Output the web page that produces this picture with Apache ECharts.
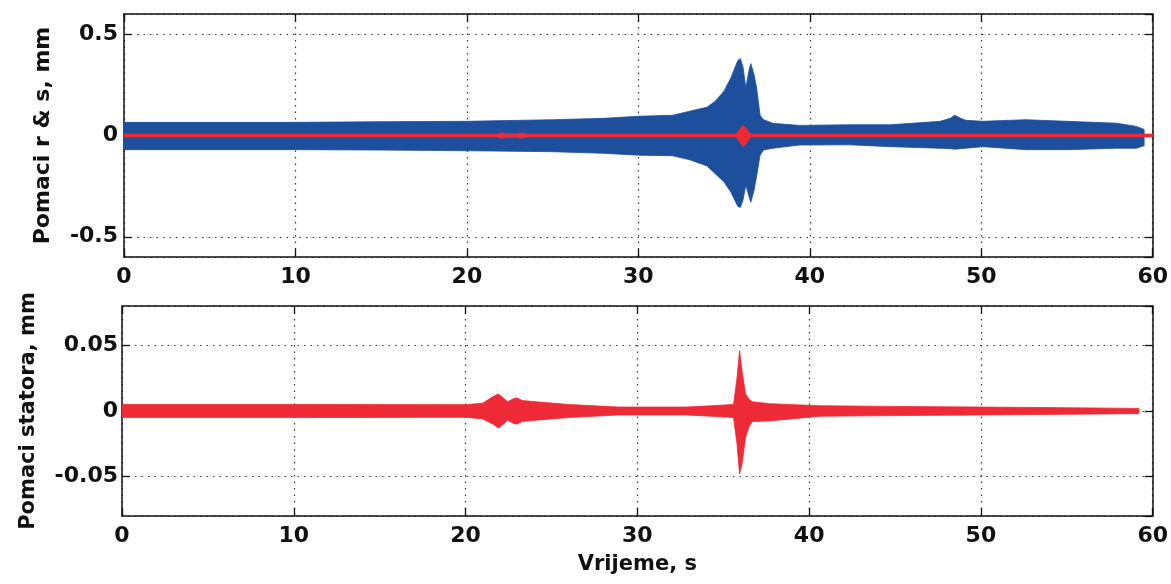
<!DOCTYPE html>
<html>
<head>
<meta charset="utf-8">
<script src="https://cdn.jsdelivr.net/npm/echarts@6/dist/echarts.min.js"></script>
<style>html,body{margin:0;padding:0;background:#fff}#c{width:1171px;height:584px}</style>
</head>
<body>
<div id="c"></div>
<script>
// ---- tick labels ----
const xTickLabels = [0, 10, 20, 30, 40, 50, 60];
const yTopTickLabels = [-0.5, 0, 0.5];
const yBottomTickLabels = [-0.05, 0, 0.05];

// ---- top plot: rotor displacement envelope (blue) ----
const rotorTime  = [0, 5, 10, 15, 20, 25, 28, 30, 32, 33, 34, 34.5, 35, 35.4, 35.8, 35.95, 36.1, 36.27, 36.45, 36.56, 36.75, 36.9, 37.1, 37.3, 37.85, 39.4, 42.3, 44.7, 47.6, 48.2, 48.45, 48.8, 49.1, 50.1, 52.6, 55, 57.9, 59.05, 59.5];
const rotorUpper = [0.065, 0.065, 0.065, 0.068, 0.07, 0.078, 0.085, 0.095, 0.10, 0.12, 0.14, 0.17, 0.22, 0.285, 0.37, 0.38, 0.34, 0.235, 0.32, 0.355, 0.30, 0.235, 0.10, 0.078, 0.06, 0.05, 0.053, 0.053, 0.07, 0.085, 0.10, 0.085, 0.075, 0.07, 0.078, 0.07, 0.061, 0.045, 0.03];
const rotorLower = [-0.07, -0.07, -0.07, -0.072, -0.075, -0.08, -0.088, -0.097, -0.10, -0.12, -0.15, -0.19, -0.23, -0.28, -0.35, -0.355, -0.32, -0.245, -0.30, -0.33, -0.27, -0.2, -0.097, -0.072, -0.063, -0.047, -0.046, -0.055, -0.063, -0.065, -0.068, -0.065, -0.063, -0.055, -0.07, -0.07, -0.063, -0.063, -0.05];

// ---- top plot: stator trace drawn on the same axes (red) ----
const statorTopTime  = [0, 21.8, 22.0, 22.3, 22.9, 23.2, 23.5, 35.7, 35.9, 36.1, 36.3, 36.5, 36.7, 60];
const statorTopUpper = [0.007, 0.007, 0.014, 0.009, 0.009, 0.013, 0.007, 0.007, 0.03, 0.05, 0.035, 0.01, 0.007, 0.007];
const statorTopLower = [-0.007, -0.007, -0.014, -0.009, -0.009, -0.013, -0.007, -0.007, -0.03, -0.055, -0.04, -0.01, -0.007, -0.007];

// ---- bottom plot: stator displacement envelope (red) ----
const statorTime  = [0, 10, 20, 21.0, 21.6, 21.9, 22.2, 22.45, 22.8, 23.0, 23.3, 24.1, 26, 28.9, 32.8, 34.3, 35.6, 35.8, 35.95, 36.1, 36.3, 36.5, 36.7, 37.7, 40.6, 45, 50, 55, 59.2];
const statorUpper = [0.005, 0.005, 0.0048, 0.006, 0.011, 0.013, 0.010, 0.007, 0.0095, 0.010, 0.008, 0.007, 0.005, 0.003, 0.003, 0.004, 0.005, 0.025, 0.046, 0.03, 0.013, 0.009, 0.007, 0.0056, 0.004, 0.0035, 0.003, 0.0025, 0.002];
const statorLower = [-0.005, -0.005, -0.0048, -0.006, -0.010, -0.013, -0.010, -0.007, -0.0095, -0.010, -0.008, -0.007, -0.005, -0.003, -0.003, -0.004, -0.005, -0.025, -0.048, -0.04, -0.02, -0.012, -0.008, -0.0076, -0.004, -0.0035, -0.003, -0.0025, -0.002];

const BLUE = '#1d4f9c';
const RED = '#ee2a36';
const FONT = 'DejaVu Sans';

// Envelope band drawn as one polygon; every vertex goes through the axis scales (api.coord).
function band(id, xs, lo, hi, color, axisIdx) {
  const rows = xs.map((t, i) => [t, lo[i], hi[i]]);
  return {
    type: 'custom', name: id, xAxisIndex: axisIdx, yAxisIndex: axisIdx,
    silent: true, animation: false, clip: true,
    encode: { x: 0, y: [1, 2] },
    data: rows,
    renderItem: function (params, api) {
      if (params.dataIndex !== 0) return null;
      const top = rows.map(r => api.coord([r[0], r[2]]));
      const bot = rows.slice().reverse().map(r => api.coord([r[0], r[1]]));
      return {
        type: 'polygon',
        shape: { points: top.concat(bot) },
        style: { fill: color, stroke: color, lineWidth: 0.8 }
      };
    }
  };
}

function fmt(list) {
  return v => list.some(t => Math.abs(t - v) < 1e-9) ? String(v) : '';
}

const axisLine = { show: true, onZero: false, lineStyle: { color: '#111', width: 1.5 } };
const tickIn = { show: true, inside: true, length: 8, lineStyle: { color: '#111', width: 1.3 } };
const dotted = { show: true, lineStyle: { color: '#333', width: 1.2, type: [1.5, 5] } };

function xAxes(gi) {
  return [
    { type: 'value', gridIndex: gi, min: 0, max: 60, interval: 10, position: 'bottom',
      axisLine: axisLine, axisTick: tickIn, splitLine: dotted,
      axisLabel: { margin: 9, fontFamily: FONT, fontWeight: 'bold', fontSize: 22, color: '#111', formatter: fmt(xTickLabels) },
      name: gi === 1 ? 'Vrijeme, s' : '', nameLocation: 'middle', nameGap: 38,
      nameTextStyle: { fontFamily: FONT, fontWeight: 'bold', fontSize: 21, color: '#111' } },
    { type: 'value', gridIndex: gi, min: 0, max: 60, interval: 10, position: 'top',
      axisLine: axisLine, axisTick: tickIn, splitLine: { show: false }, axisLabel: { show: false } }
  ];
}

function yAxes(gi, min, max, split, ticks, name, margin, gap, fs) {
  return [
    { type: 'value', gridIndex: gi, min: min, max: max, splitNumber: split, position: 'left',
      axisLine: axisLine, axisTick: tickIn, splitLine: dotted,
      axisLabel: { margin: margin, showMinLabel: false, showMaxLabel: false, fontFamily: FONT, fontWeight: 'bold', fontSize: 22, color: '#111', formatter: fmt(ticks) },
      name: name, nameLocation: 'middle', nameRotate: 90, nameGap: gap,
      nameTextStyle: { fontFamily: FONT, fontWeight: 'bold', fontSize: fs, color: '#111' } },
    { type: 'value', gridIndex: gi, min: min, max: max, splitNumber: split, position: 'right',
      axisLine: axisLine, axisTick: tickIn, splitLine: { show: false }, axisLabel: { show: false } }
  ];
}

const chart = echarts.init(document.getElementById('c'), null, { renderer: 'canvas' });
const xa = xAxes(0).concat(xAxes(1));
const ya = yAxes(0, -0.6, 0.6, 2, yTopTickLabels, 'Pomaci r & s, mm', 6, 70, 22)
  .concat(yAxes(1, -0.08, 0.08, 3, yBottomTickLabels, 'Pomaci statora, mm', 4, 83, 21));

// grid 0 uses xAxis 0 / yAxis 0, grid 1 uses xAxis 2 / yAxis 2
const series = [
  band('rotor', rotorTime, rotorLower, rotorUpper, BLUE, 0),
  band('statorTop', statorTopTime, statorTopLower, statorTopUpper, RED, 0),
  band('stator', statorTime, statorLower, statorUpper, RED, 2)
];

chart.setOption({
  animation: false,
  backgroundColor: '#fff',
  grid: [
    { left: 124, top: 14, width: 1030, height: 243 },
    { left: 122, top: 306, width: 1031, height: 210 }
  ],
  xAxis: xa,
  yAxis: ya,
  series: series
});
</script>
</body>
</html>
